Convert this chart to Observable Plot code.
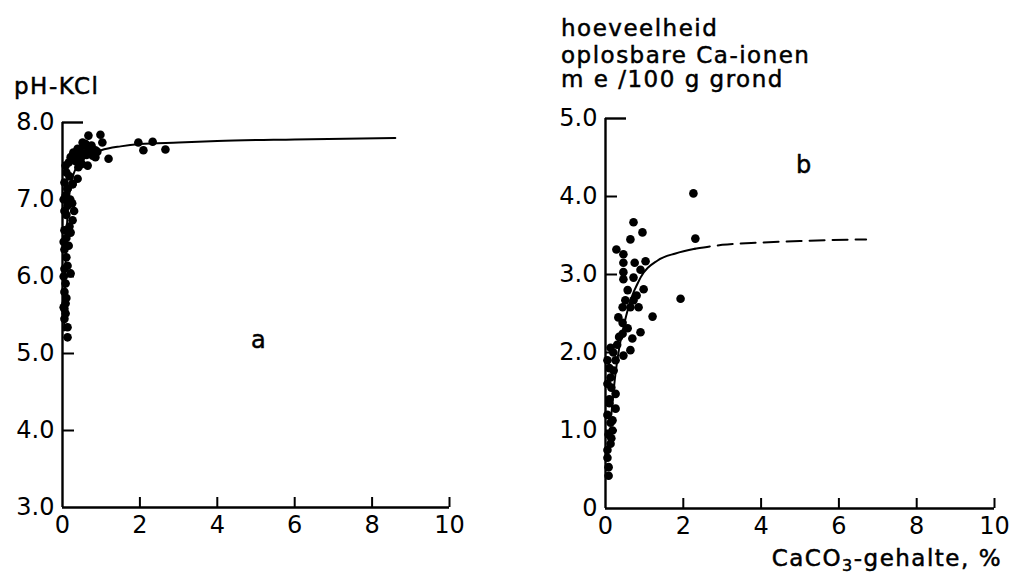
<!DOCTYPE html>
<html><head><meta charset="utf-8">
<script src="https://cdn.jsdelivr.net/npm/d3@7"></script>
<script src="https://cdn.jsdelivr.net/npm/@observablehq/plot@0.6"></script>
<style>
body{margin:0;background:#fff;}
#wrap{position:relative;width:1010px;height:579px;overflow:hidden;font-family:"DejaVu Sans",sans-serif;color:#000;background:#fff;}
.panel{position:absolute;top:0;}
.panel svg{overflow:visible;}
.lbl{position:absolute;font-size:23px;letter-spacing:1.5px;line-height:1;white-space:nowrap;-webkit-text-stroke:0.5px #000;}
</style></head><body><div id="wrap"></div>
<script>
// ---- shared axis ticks ----
const xTicks = [0, 2, 4, 6, 8, 10];
const xTickLabels = ["0", "2", "4", "6", "8", "10"];

// ---- panel a: pH-KCl ----
const phTicks = [3, 4, 5, 6, 7, 8];
const phTickLabels = ["3.0", "4.0", "5.0", "6.0", "7.0", "8.0"];
const phDotX = [0.67,0.98,1.03,0.52,0.39,0.67,0.85,0.28,0.59,0.78,0.21,0.47,1.19,0.85,0.16,0.65,0.41,0.08,0.39,0.26,0.13,
  1.96,2.33,2.09,2.66,
  0.10,0.18,0.05,0.26,0.13,0.08,0.20,0.13,0.05,0.26,0.10,0.18,0.21,0.05,0.10,0.16,0.05,0.10,0.13,0.05,0.21,0.08,0.05,0.10,0.08,0.05,0.08,0.05,0.13,0.13,0.30,0.25,0.55,0.72,0.33,
  0.45,0.60,0.75,0.90,0.35,0.50,0.62,0.03,0.03,0.03,0.03];
const phDotY = [7.83,7.84,7.74,7.74,7.66,7.68,7.64,7.61,7.60,7.57,7.55,7.53,7.53,7.55,7.48,7.44,7.42,7.44,7.27,7.20,7.14,
  7.74,7.75,7.64,7.65,
  7.35,7.30,7.22,7.20,7.14,7.05,7.00,6.92,6.85,6.73,6.80,6.65,6.57,6.60,6.50,6.40,6.35,6.25,6.14,6.10,6.04,5.91,5.80,5.72,5.65,5.58,5.52,5.45,5.34,5.21,6.85,6.95,7.70,7.62,7.50,
  7.62,7.72,7.70,7.62,7.55,7.46,7.58,7.00,6.45,6.00,5.60];
const phCurveX = [0.04,0.08,0.13,0.2,0.3,0.45,0.65,1.0,1.5,2.0,3.0,4.0,6.0,8.6];
const phCurveY = [5.3,6.2,6.8,7.15,7.35,7.48,7.57,7.64,7.69,7.72,7.74,7.76,7.78,7.8];

// ---- panel b: soluble Ca ions ----
const caTicks = [0, 1, 2, 3, 4, 5];
const caTickLabels = ["0", "1.0", "2.0", "3.0", "4.0", "5.0"];
const caDotX = [0.72,0.95,0.64,2.31,0.28,0.46,0.46,0.75,1.03,0.90,0.46,0.72,0.46,0.57,0.98,0.80,0.51,0.72,1.93,0.44,0.64,0.85,2.26,1.21,
  0.90,0.69,0.64,0.46,0.44,0.13,0.26,0.21,0.13,0.26,0.26,0.18,0.18,0.13,0.05,0.08,0.08,0.57,0.44,
  0.05,0.10,0.05,0.15,0.10,0.05,0.13,0.08,0.05,0.15,0.30,0.35,0.20,0.33,0.10];
const caDotY = [3.67,3.54,3.45,3.46,3.32,3.26,3.15,3.15,3.17,3.06,3.03,2.96,2.94,2.80,2.81,2.73,2.67,2.67,2.69,2.58,2.58,2.58,4.04,2.46,
  2.26,2.18,2.03,1.96,2.24,2.06,1.90,1.77,1.68,1.47,1.28,1.13,1.00,0.83,0.65,0.53,0.42,2.31,2.38,
  1.90,1.80,1.60,1.55,1.40,1.20,1.10,0.95,0.75,0.90,2.10,2.20,2.00,2.45,1.35];
const caSolidX = [0.15,0.25,0.35,0.46,0.6,0.9,1.34,1.8,2.3];
const caSolidY = [1.2,1.7,2.05,2.32,2.6,2.96,3.18,3.27,3.33];
const caDashX = [2.3,3.0,4.0,5.0,6.7];
const caDashY = [3.33,3.38,3.41,3.43,3.45];

const font = {fontFamily: '"DejaVu Sans", sans-serif', fontSize: "24px", background: "white", color: "black", overflow: "visible"};
const wrap = document.getElementById("wrap");

function panel({left, width, height, mL, mR, mT, mB, yDomain, yTicks, yLabels, dots, curves, tag}) {
  const frameW = width - mL - mR, frameH = height - mT - mB;
  const marks = [
    Plot.ruleX([xTicks[0]], {y1: yDomain[0], y2: yDomain[1], strokeWidth: 2.4}),
    Plot.ruleY([yDomain[0]], {x1: xTicks[0], x2: xTicks[xTicks.length - 1], strokeWidth: 2.4}),
    Plot.tickY(yTicks.slice(1, -1), {y: d => d, insetRight: frameW - 12, strokeWidth: 2}),
    Plot.tickY(yTicks.slice(-1), {y: d => d, insetRight: frameW - 21, strokeWidth: 2.4}),
    Plot.tickX(xTicks.slice(1), {x: d => d, insetTop: frameH - 10, strokeWidth: 2}),
    Plot.axisY(yTicks, {tickSize: 0, tickPadding: 8, label: null, fontSize: 24, fill: "black", stroke: "black", strokeWidth: 0.5, tickFormat: d => yLabels[yTicks.indexOf(d)]}),
    Plot.axisX(xTicks, {tickSize: 0, tickPadding: 8, label: null, fontSize: 24, fill: "black", stroke: "black", strokeWidth: 0.5, tickFormat: d => xTickLabels[xTicks.indexOf(d)]}),
    ...curves,
    Plot.dot(dots, {x: "x", y: "y", r: 4.3, fill: "black", stroke: "none"}),
    Plot.text([tag], {x: "x", y: "y", text: "t", fontSize: 24, fill: "black", stroke: "black", strokeWidth: 0.5})
  ];
  const svg = Plot.plot({
    width, height, marginLeft: mL, marginRight: mR, marginTop: mT, marginBottom: mB,
    x: {domain: [xTicks[0], xTicks[xTicks.length - 1]]},
    y: {domain: yDomain},
    style: font,
    marks
  });
  const d = document.createElement("div");
  d.className = "panel";
  d.style.left = left + "px";
  d.appendChild(svg);
  wrap.appendChild(d);
}

const phDots = phDotX.map((x, i) => ({x, y: phDotY[i]}));
const phCurve = phCurveX.map((x, i) => ({x, y: phCurveY[i]}));
panel({
  left: 0, width: 480, height: 579, mL: 62, mR: 31, mT: 122, mB: 72,
  yDomain: [3, 8], yTicks: phTicks, yLabels: phTickLabels, dots: phDots,
  curves: [Plot.line(phCurve, {x: "x", y: "y", curve: "monotone-x", strokeWidth: 2})],
  tag: {x: 5.06, y: 5.17, t: "a"}
});

const caDots = caDotX.map((x, i) => ({x, y: caDotY[i]}));
const caSolid = caSolidX.map((x, i) => ({x, y: caSolidY[i]}));
const caDash = caDashX.map((x, i) => ({x, y: caDashY[i]}));
panel({
  left: 540, width: 470, height: 579, mL: 65, mR: 16, mT: 118, mB: 71,
  yDomain: [0, 5], yTicks: caTicks, yLabels: caTickLabels, dots: caDots,
  curves: [
    Plot.line(caSolid, {x: "x", y: "y", curve: "monotone-x", strokeWidth: 2}),
    Plot.line(caDash, {x: "x", y: "y", curve: "monotone-x", strokeWidth: 2, strokeDasharray: "15,8"})
  ],
  tag: {x: 5.09, y: 4.4, t: "b"}
});

function label(html, left, top, extra) {
  const d = document.createElement("div");
  d.className = "lbl";
  d.innerHTML = html;
  d.style.left = left + "px";
  d.style.top = top + "px";
  if (extra) Object.assign(d.style, extra);
  wrap.appendChild(d);
}
label("pH-KCl", 14, 75);
label("hoeveelheid", 561, 17);
label("oplosbare Ca-ionen", 561, 44);
label("m e /100 g grond", 561, 68);
label('CaCO<span style="font-size:16px;position:relative;top:5px">3</span>-gehalte, %', 0, 547, {left: "auto", right: "8px"});
</script>
</body></html>
